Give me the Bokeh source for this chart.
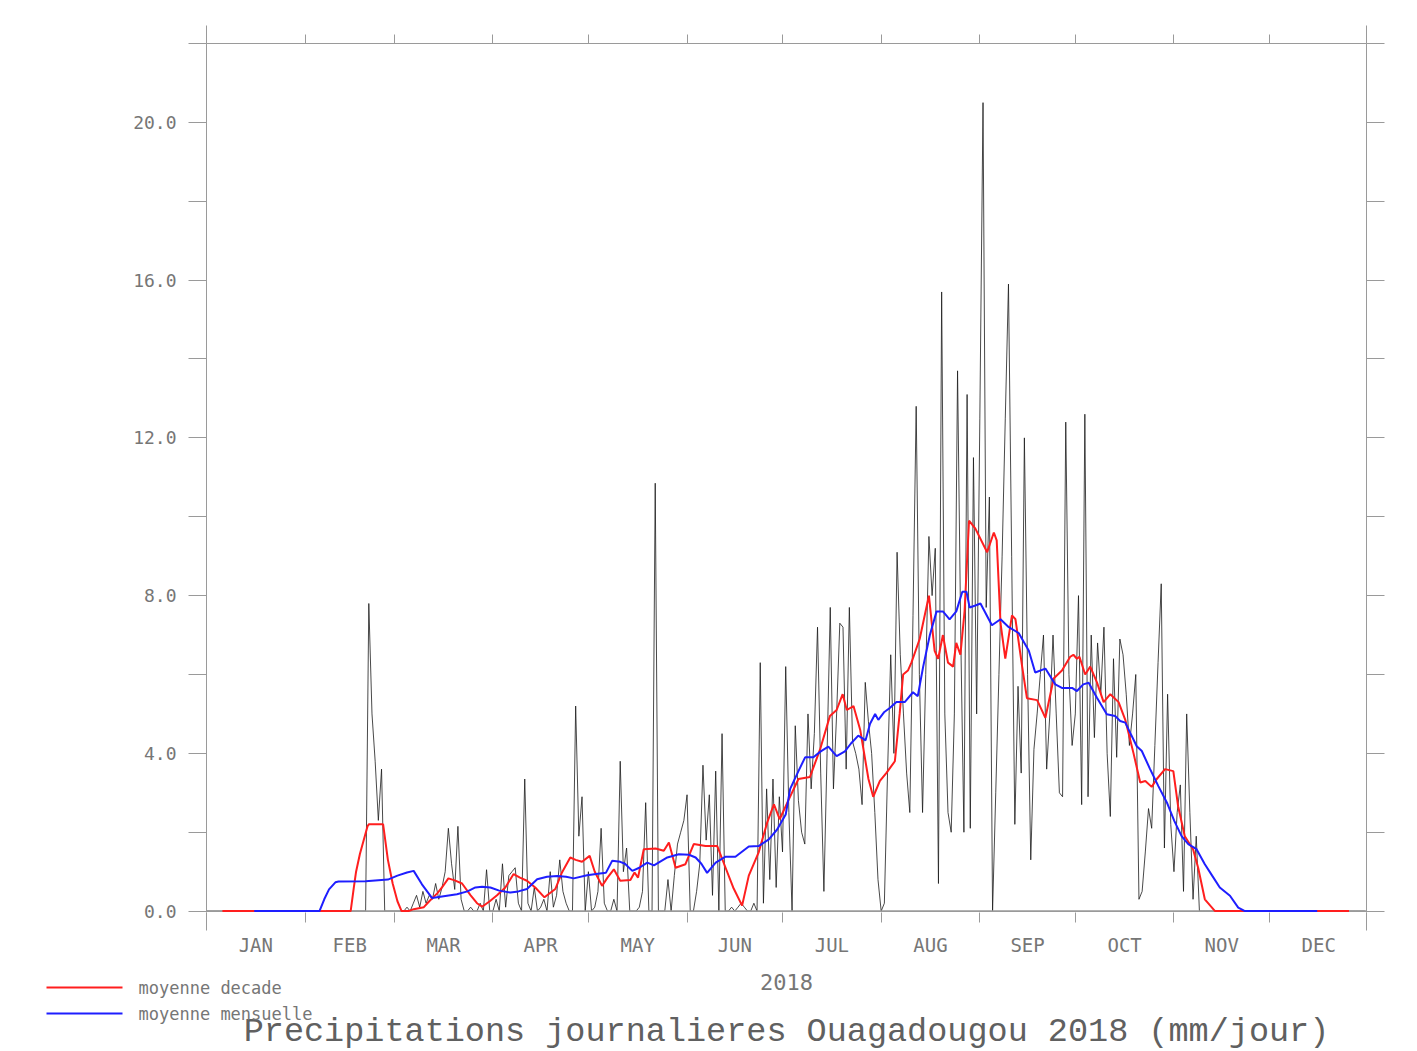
from bokeh.plotting import figure
from bokeh.models import LinearAxis, FixedTicker, Range1d, PrintfTickFormatter, Span
from bokeh.core.properties import value
from bokeh.embed import file_html
from bokeh.resources import INLINE

# ---------------- data ----------------
month_names = ["JAN", "FEB", "MAR", "APR", "MAY", "JUN",
               "JUL", "AUG", "SEP", "OCT", "NOV", "DEC"]
month_len = [31, 28, 31, 30, 31, 30, 31, 31, 30, 31, 30, 31]

# daily precipitation (mm/day), one list per month
jan = [0.0, 0.0, 0.0, 0.0, 0.0, 0.0, 0.0, 0.0, 0.0, 0.0, 0.0, 0.0, 0.0, 0.0, 0.0, 0.0,
       0.0, 0.0, 0.0, 0.0, 0.0, 0.0, 0.0, 0.0, 0.0, 0.0, 0.0, 0.0, 0.0, 0.0, 0.0]
feb = [0.0, 0.0, 0.0, 0.0, 0.0, 0.0, 0.0, 0.0, 0.0, 0.0, 0.0, 0.0, 0.0, 0.0, 0.0, 0.0,
       0.0, 0.0, 0.0, 0.0, 7.8, 5.0, 3.8, 2.3, 3.6, 0.0, 0.0, 0.0]
mar = [0.0, 0.0, 0.0, 0.0, 0.1, 0.0, 0.2, 0.4, 0.1, 0.5, 0.2, 0.4, 0.3, 0.7, 0.3, 0.6,
       1.0, 2.1, 1.2, 0.55, 2.15, 0.3, 0.0, 0.0, 0.1, 0.0, 0.0, 0.2, 0.0, 1.05, 0.0]
apr = [0.0, 0.3, 0.0, 1.2, 0.1, 0.9, 1.0, 1.1, 0.2, 0.0, 3.35, 0.2, 0.0, 0.6, 0.0, 0.1,
       0.3, 0.0, 1.0, 0.1, 0.4, 1.3, 0.5, 0.2, 0.0, 0.0, 5.2, 1.9, 2.9, 0.0]
may = [1.0, 0.0, 0.1, 0.5, 2.1, 0.2, 0.0, 0.0, 0.3, 0.0, 3.8, 1.0, 1.6, 0.0, 0.0, 0.0,
       0.1, 0.5, 2.75, 0.0, 0.0, 10.85, 0.0, 0.0, 0.0, 0.8, 0.0, 0.9, 1.7, 2.0, 2.3]
jun = [2.95, 0.0, 0.0, 0.5, 1.2, 3.7, 1.8, 2.95, 0.4, 3.55, 0.0, 4.5, 0.0, 0.0, 0.1, 0.0,
       0.1, 0.2, 0.1, 0.0, 0.0, 0.2, 0.0, 6.3, 0.2, 3.1, 0.8, 3.35, 0.6, 2.9]
jul = [1.5, 6.2, 2.5, 0.0, 4.7, 2.8, 2.0, 1.7, 5.0, 3.1, 4.5, 7.2, 3.5, 0.5, 4.0, 7.7,
       3.1, 5.0, 7.3, 7.2, 3.6, 7.7, 4.3, 4.0, 3.6, 2.7, 5.8, 4.8, 4.0, 2.5, 0.8]
aug = [0.0, 0.2, 3.5, 6.5, 4.0, 9.1, 6.5, 5.0, 3.5, 2.5, 7.5, 12.8, 6.0, 2.5, 6.0, 9.5,
       8.0, 9.2, 0.7, 15.7, 5.0, 2.5, 2.0, 5.0, 13.7, 7.0, 2.0, 13.1, 2.1, 11.5, 5.0]
sep = [12.5, 20.5, 7.7, 10.5, 0.0, 3.0, 6.0, 9.0, 12.5, 15.9, 9.0, 2.2, 5.7, 3.5, 12.0, 6.0,
       1.3, 4.1, 5.0, 6.0, 7.0, 3.6, 5.0, 7.0, 5.0, 3.0, 2.9, 12.4, 6.0, 4.2]
oct_ = [5.0, 8.0, 2.7, 12.6, 2.9, 7.0, 4.4, 6.8, 5.5, 7.2, 4.0, 2.4, 6.4, 3.9, 6.9, 6.5,
        5.5, 4.2, 5.0, 6.0, 0.3, 0.5, 1.5, 2.6, 2.1, 4.2, 6.3, 8.3, 1.6, 5.5, 2.2]
nov = [1.0, 2.5, 3.2, 0.5, 5.0, 2.5, 0.3, 1.9, 0.0, 0.0, 0.0, 0.0, 0.0, 0.0, 0.0, 0.0,
       0.0, 0.0, 0.0, 0.0, 0.0, 0.0, 0.0, 0.0, 0.0, 0.0, 0.0, 0.0, 0.0, 0.0]
dec = [0.0, 0.0, 0.0, 0.0, 0.0, 0.0, 0.0, 0.0, 0.0, 0.0, 0.0, 0.0, 0.0, 0.0, 0.0, 0.0,
       0.0, 0.0, 0.0, 0.0, 0.0, 0.0, 0.0, 0.0, 0.0, 0.0, 0.0, 0.0, 0.0, 0.0, 0.0]

# "moyenne decade" (red), read at day-of-year positions
red_day = [5, 45.3, 46.3, 47, 48.2, 50.6, 51, 55.5, 57, 58.5, 60, 61.3, 63.5, 65.1, 68.3,
           70, 72.5, 74, 76, 78, 80.3, 83, 85, 86.6, 89, 91.3, 93.9, 96.5, 98.5, 100.7,
           103.3, 106.2, 109.6, 111.7, 114.3, 116, 118, 120.4, 122, 124.3, 126, 128, 130,
           133.2, 134.5, 135.6, 137.4, 141.1, 143.7, 145.3, 147.4, 150.5, 153.1, 156.8,
           160.5, 163.1, 165.5, 168.3, 170.4, 173.5, 176.2, 178.3, 180.1, 182.8, 186,
           189.6, 192.8, 195.9, 198, 199.9, 201.2, 203.3, 205.4, 208, 209.5, 211.6, 213.6,
           216.3, 217.8, 218.9, 220.4, 221.5, 224.1, 227, 228.8, 229.9, 231.4, 233, 234.6,
           235.6, 236.9, 238.2, 239.6, 241.6, 245.3, 247.4, 248.3, 249.5, 251, 253.1,
           254.2, 256.3, 257.8, 261, 263.6, 266.2, 268.8, 271.4, 272.4, 273.5, 274.3,
           276.1, 277.7, 279.8, 281.9, 284, 286.6, 288.7, 291.3, 293.4, 295, 297, 298.6,
           301.2, 303.8, 305.3, 307.4, 310, 311.6, 313.7, 316.9, 359]
red_val = [0.0, 0.0, 0.6, 1.0, 1.45, 2.15, 2.2, 2.2, 1.3, 0.7, 0.25, 0.0, 0.0, 0.05, 0.1,
           0.25, 0.45, 0.6, 0.83, 0.78, 0.7, 0.4, 0.2, 0.11, 0.25, 0.4, 0.6, 0.94, 0.85, 0.77,
           0.6, 0.35, 0.56, 0.98, 1.36, 1.3, 1.25, 1.4, 1.0, 0.64, 0.85, 1.06, 0.77,
           0.79, 0.98, 0.85, 1.57, 1.59, 1.53, 1.74, 1.1, 1.19, 1.7, 1.65,
           1.65, 1.1, 0.6, 0.14, 0.9, 1.49, 2.25, 2.71, 2.33, 2.8, 3.35,
           3.4, 4.1, 4.95, 5.1, 5.5, 5.1, 5.2, 4.6, 3.35, 2.9, 3.3, 3.5,
           3.8, 5.0, 6.0, 6.1, 6.3, 6.9, 8.0, 6.6, 6.4, 7.0, 6.3, 6.2,
           6.8, 6.5, 7.6, 9.9, 9.7, 9.1, 9.6, 9.4, 7.3, 6.4, 7.5,
           7.4, 6.2, 5.4, 5.35, 4.9, 5.9, 6.1, 6.45, 6.5, 6.4, 6.45,
           6.0, 6.2, 5.8, 5.3, 5.5, 5.3, 4.85, 4.0, 3.26, 3.3, 3.15, 3.35,
           3.6, 3.55, 2.66, 1.9, 1.57, 1.1, 0.3, 0.0, 0.0]

# "moyenne mensuelle" (blue)
blue_day = [15, 35.5, 37, 38.5, 40.5, 41.5, 50, 57, 60, 63, 65.1, 67.7, 70.9, 74, 78.7, 82,
            84.5, 86.6, 89.2, 92, 95.5, 98, 100.7, 103.9, 107, 110.2, 113, 115.4, 119.6,
            123, 125.5, 127.5, 130, 131.5, 133.8, 136, 138.5, 140.6, 144.8, 148.4, 151.6,
            153.7, 155.5, 157.3, 160, 163.1, 166.2, 170.4, 173.5, 176.7, 179.3, 182, 183.4,
            186, 188.1, 190.7, 193, 195.4, 198, 200.6, 202.5, 204.8, 207.1, 208.5, 210.1,
            211.1, 213, 214.7, 216.8, 219.4, 222, 223.5, 225.2, 227.3, 229.4, 231.4, 233.5,
            235.6, 237.5, 238.8, 239.8, 241.6, 243.2, 246.8, 249.5, 252.1, 255.2, 258.4,
            260.4, 263.6, 266.7, 268.8, 272, 273.5, 275.5, 277.2, 279.8, 282.9, 285.5,
            287.1, 288.7, 292.3, 293.9, 296.5, 299.1, 301.8, 304.1, 306.4, 308.5, 311.1,
            313.7, 316, 318.4, 321.6, 324.2, 326.3, 349]
blue_val = [0.0, 0.0, 0.3, 0.55, 0.73, 0.75, 0.76, 0.8, 0.9, 0.98, 1.02, 0.68, 0.33, 0.37,
            0.43, 0.5, 0.6, 0.62, 0.6, 0.52, 0.47, 0.5, 0.56, 0.81, 0.87, 0.89, 0.87, 0.83,
            0.91, 0.95, 0.97, 1.28, 1.25, 1.2, 1.02, 1.1, 1.23, 1.16, 1.36, 1.44, 1.43,
            1.36, 1.2, 0.97, 1.23, 1.38, 1.38, 1.64, 1.65, 1.82, 2.07, 2.45, 3.1,
            3.55, 3.9, 3.9, 4.05, 4.17, 3.93, 4.05, 4.25, 4.45, 4.33, 4.75, 5.0,
            4.85, 5.05, 5.15, 5.3, 5.3, 5.55, 5.45, 6.2, 7.0, 7.6, 7.6, 7.4,
            7.6, 8.1, 8.1, 7.7, 7.75, 7.8, 7.25, 7.4, 7.2, 7.05, 6.6,
            6.05, 6.15, 5.75, 5.66, 5.66, 5.58, 5.75, 5.79, 5.41, 4.99, 4.95,
            4.82, 4.78, 4.18, 4.06, 3.6, 3.17, 2.75, 2.29, 1.9, 1.7, 1.57,
            1.19, 0.9, 0.6, 0.39, 0.09, 0.0, 0.0]

y_major = [0, 4, 8, 12, 16, 20]
y_minor = [2, 6, 10, 14, 18, 22]
year_label = "2018"
title_text = "Precipitations journalieres Ouagadougou 2018 (mm/jour)"
legend_labels = ["moyenne decade", "moyenne mensuelle"]

# ---------------- derived positions ----------------
daily = jan + feb + mar + apr + may + jun + jul + aug + sep + oct_ + nov + dec
days = list(range(len(daily)))
month_start = []
acc = 0
for n in month_len:
    month_start.append(acc)
    acc += n
month_mid = [s + n / 2 for s, n in zip(month_start, month_len)]
x_end = 364.5

GRAY = "#9a9a9a"
TXT = "#767676"
MONO = "DejaVu Sans Mono"
RED = "#ff1e1e"
BLUE = "#1e1eff"

W = 1410
FRAME_L, FRAME_W, FRAME_T, FRAME_H = 206, 1160, 43, 869
MAIN_H = 962
LOW_H = 88

p = figure(width=W, height=MAIN_H, output_backend="svg", toolbar_location=None,
           x_range=Range1d(0, x_end), y_range=Range1d(-0.035, 22),
           min_border_left=FRAME_L, min_border_right=W - FRAME_L - FRAME_W,
           min_border_top=FRAME_T, min_border_bottom=MAIN_H - FRAME_T - FRAME_H,
           x_axis_location=None, y_axis_location=None)
p.xgrid.visible = False
p.ygrid.visible = False
p.outline_line_color = None

r_black = p.line(days, daily, line_color="#1a1a1a", line_width=0.8)
# zero line of the frame, drawn over the daily series but under the averages
p.add_layout(Span(location=0, dimension="width", line_color=GRAY, line_width=1.6))
r_red = p.line(red_day, red_val, line_color=RED, line_width=2, level="overlay")
r_blue = p.line(blue_day, blue_val, line_color=BLUE, line_width=2, level="overlay")


def style(ax):
    ax.axis_line_color = GRAY
    ax.major_tick_line_color = GRAY
    ax.minor_tick_line_color = GRAY
    ax.major_tick_in = 0
    ax.minor_tick_in = 0
    ax.major_label_text_color = TXT
    ax.major_label_text_font = MONO


left = LinearAxis(ticker=FixedTicker(ticks=y_major, minor_ticks=y_minor),
                  formatter=PrintfTickFormatter(format="%.1f"))
style(left)
left.major_tick_out = 18
left.minor_tick_out = 18
left.major_label_standoff = 12
left.major_label_text_font_size = "18px"
p.add_layout(left, "left")

right = LinearAxis(ticker=FixedTicker(ticks=y_major, minor_ticks=y_minor),
                   major_label_overrides={v: "" for v in y_major})
style(right)
right.major_tick_out = 18
right.minor_tick_out = 18
right.major_label_text_font_size = "1px"
right.major_label_standoff = 0
p.add_layout(right, "right")

top = LinearAxis(ticker=FixedTicker(ticks=[0, x_end], minor_ticks=month_start[1:]),
                 major_label_overrides={0: "", x_end: ""})
style(top)
top.major_tick_out = 18
top.minor_tick_out = 9
top.major_label_text_font_size = "1px"
top.major_label_standoff = 0
p.add_layout(top, "above")

bot = LinearAxis(ticker=FixedTicker(ticks=[0, x_end], minor_ticks=month_start[1:]),
                 major_label_overrides={0: "", x_end: ""})
style(bot)
bot.axis_line_color = None
bot.major_tick_out = 18
bot.minor_tick_out = 10
bot.major_label_text_font_size = "1px"
bot.major_label_standoff = 0
p.add_layout(bot, "below")

mon = LinearAxis(ticker=FixedTicker(ticks=month_mid, minor_ticks=[]),
                 major_label_overrides={m: n for m, n in zip(month_mid, month_names)})
mon.axis_line_color = None
mon.major_tick_line_color = None
mon.minor_tick_line_color = None
mon.major_tick_out = 0
mon.major_label_standoff = 3
mon.major_label_text_color = TXT
mon.major_label_text_font = MONO
mon.major_label_text_font_size = "19px"
p.add_layout(mon, "below")

# ---------------- lower strip (own root): year label, legend, title ----------------
q = figure(width=W, height=LOW_H, output_backend="svg", toolbar_location=None,
           x_range=Range1d(0, W), y_range=Range1d(LOW_H, 0),
           min_border_left=0, min_border_right=0, min_border_top=0, min_border_bottom=0,
           x_axis_location=None, y_axis_location=None)
q.xgrid.visible = False
q.ygrid.visible = False
q.outline_line_color = None

cx = FRAME_L + FRAME_W / 2
q.text(x=[cx], y=[19], text=[year_label], text_align="center", text_baseline="middle",
       text_font=value(MONO), text_font_size="22px", text_color=TXT)
q.text(x=[cx], y=[69], text=[title_text], text_align="center",
       text_baseline="middle", text_font=value("Liberation Mono"),
       text_font_size="33.5px", text_color="#606060")

# legend: sample line + label for each average
leg_y = [25, 51]
q.segment(x0=[46, 46], y0=leg_y, x1=[122, 122], y1=leg_y,
          line_color=[RED, BLUE], line_width=2)
q.text(x=[138, 138], y=leg_y, text=legend_labels, text_align="left",
       text_baseline="middle", text_font=value(MONO), text_font_size="17px",
       text_color=TXT)

open("out.html", "w").write(file_html([p, q], INLINE))
